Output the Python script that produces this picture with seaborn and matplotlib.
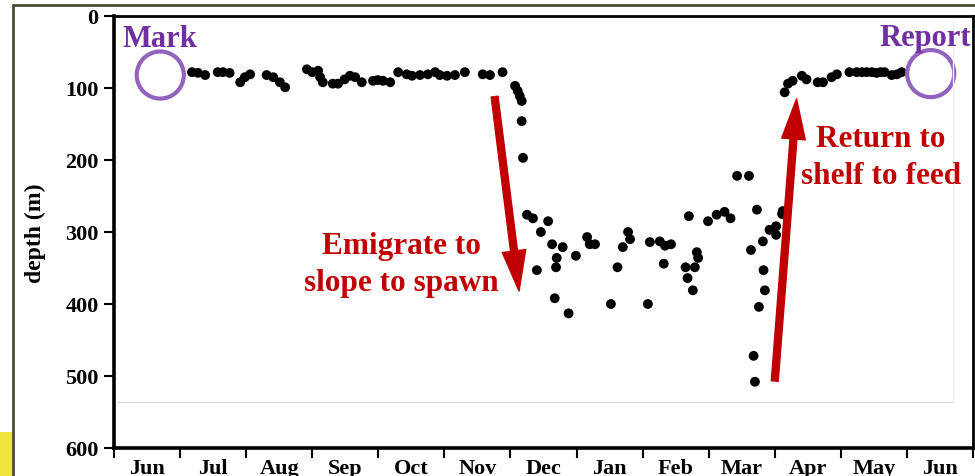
import matplotlib
matplotlib.use("Agg")
import matplotlib.pyplot as plt
from matplotlib.lines import Line2D
from matplotlib.patches import Rectangle
import seaborn as sns
import pandas as pd

# months along the x axis, one unit per month starting at 1 June
month_labels = ["Jun", "Jul", "Aug", "Sep", "Oct", "Nov", "Dec",
                "Jan", "Feb", "Mar", "Apr", "May", "Jun"]
depth_ticks = [0, 100, 200, 300, 400, 500, 600]

# summer on the shelf (Jun - Nov)
shelf_month = [1.18, 1.27, 1.38, 1.57, 1.65, 1.75, 1.91, 1.98, 2.06, 2.31, 2.41,
               2.51, 2.59, 2.92, 3.00, 3.09, 3.12, 3.16, 3.31, 3.39, 3.49, 3.57,
               3.65, 3.75, 3.92, 3.99, 4.07, 4.18, 4.30, 4.43, 4.51, 4.63, 4.75,
               4.86, 4.93, 5.04, 5.16, 5.31, 5.58, 5.69, 5.88]
shelf_depth = [78, 79, 82, 78, 78, 79, 92, 85, 81, 82, 85,
               92, 99, 74, 78, 76, 85, 92, 94, 94, 88, 83,
               85, 92, 90, 89, 90, 92, 78, 81, 83, 82, 81,
               78, 82, 83, 82, 78, 81, 82, 78]

# dive in early December
dive_month = [6.07, 6.11, 6.14, 6.17, 6.17, 6.19]
dive_depth = [97, 104, 111, 118, 146, 197]

# winter on the slope (Dec - Mar)
slope_month = [6.25, 6.34, 6.57, 6.46, 6.63, 6.79, 6.70, 6.69, 6.40, 6.99, 6.67,
               6.88, 7.16, 7.20, 7.28, 7.52, 7.62, 7.70, 7.78, 7.81, 8.08, 8.11,
               8.26, 8.34, 8.43, 8.32, 8.70, 8.82, 8.84, 8.65, 8.79, 8.68, 8.76,
               8.99, 9.12, 9.24, 9.33, 9.43, 9.61, 9.73, 9.64, 9.82, 9.83, 9.85,
               9.76, 9.68, 9.70, 9.92, 10.02, 10.02, 10.11, 10.12]
slope_depth = [276, 281, 285, 300, 317, 321, 336, 349, 353, 333, 392,
               413, 307, 317, 317, 400, 349, 321, 300, 310, 400, 314,
               313, 319, 317, 344, 278, 328, 336, 349, 349, 364, 381,
               285, 276, 272, 281, 222, 222, 269, 325, 313, 353, 381,
               404, 472, 508, 297, 292, 304, 275, 271]

# back on the shelf (Apr - Jun)
return_month = [10.15, 10.20, 10.27, 10.41, 10.48, 10.65, 10.73, 10.86, 10.94,
                11.13, 11.24, 11.32, 11.39, 11.47, 11.54, 11.60, 11.66, 11.77,
                11.85, 11.92]
return_depth = [106, 94, 90, 83, 88, 92, 92, 85, 81,
                78, 78, 78, 78, 78, 79, 78, 78, 82,
                81, 78]

df = pd.DataFrame({
    "month": shelf_month + dive_month + slope_month + return_month,
    "depth": shelf_depth + dive_depth + slope_depth + return_depth,
})

sns.set_style("white")
plt.rcParams["font.family"] = ["Liberation Serif", "DejaVu Serif"]
plt.rcParams["font.weight"] = "bold"
plt.rcParams["text.color"] = "black"
plt.rcParams["xtick.color"] = "black"
plt.rcParams["ytick.color"] = "black"
plt.rcParams["axes.labelcolor"] = "black"

W, H = 975, 477
fig = plt.figure(figsize=(W / 100, H / 100), dpi=100)
ax = fig.add_axes([114 / W, 1 - 449 / H, (973 - 114) / W, (449 - 17) / H])

sns.scatterplot(data=df, x="month", y="depth", ax=ax, color="black",
                s=50, edgecolor="none", zorder=3)

ax.set_xlim(0, 13)
ax.set_ylim(600, 0)
ax.set_yticks(depth_ticks)
ax.set_yticklabels([str(t) for t in depth_ticks], fontsize=16, fontweight="bold")
ax.set_xticks(range(14))
ax.set_xticklabels([])
ax.set_xticks([i + 0.5 for i in range(13)], minor=True)
ax.set_xticklabels(month_labels, minor=True, fontsize=16, fontweight="bold")
ax.tick_params(axis="x", which="major", direction="out", length=7, width=1.5,
               color="black", bottom=True)
ax.tick_params(axis="x", which="minor", length=0, pad=7, bottom=True)
ax.tick_params(axis="y", direction="out", length=7, width=1.5, pad=4,
               color="black", left=True)
ax.set_xlabel("")
ax.set_ylabel("depth (m)", fontsize=17, fontweight="bold")
ax.yaxis.set_label_coords(-0.079, 0.5)
for side, lw in [("left", 2.6), ("bottom", 2.6), ("top", 2), ("right", 2)]:
    ax.spines[side].set_visible(True)
    ax.spines[side].set_color("black")
    ax.spines[side].set_linewidth(lw)

# tag / report rings
ring = "#9163bd"
ax.scatter([0.70, 12.36], [82, 80], s=1150, facecolors="none",
           edgecolors=ring, linewidths=3, zorder=4)
purple = "#7030a0"
fig.text(123 / W, 1 - 47 / H, "Mark", color=purple, fontsize=22,
         fontweight="bold", ha="left", va="baseline")
fig.text(971 / W, 1 - 46 / H, "Report", color=purple, fontsize=22,
         fontweight="bold", ha="right", va="baseline")

# migration arrows
red = "#c00000"
arrow = dict(arrowstyle="simple,head_length=29,head_width=17,tail_width=5",
             mutation_scale=1, color=red, shrinkA=0, shrinkB=0)
ax.annotate("", xy=(6.13, 382), xytext=(5.76, 112), arrowprops=arrow, zorder=5)
ax.annotate("", xy=(10.33, 115), xytext=(10.0, 507), arrowprops=arrow, zorder=5)
fig.text(401 / W, 1 - 265 / H, "Emigrate to\nslope to spawn", color=red,
         fontsize=22.5, fontweight="bold", ha="center", va="center",
         multialignment="center", linespacing=1.35)
fig.text(881 / W, 1 - 158 / H, "Return to\nshelf to feed", color=red,
         fontsize=22.5, fontweight="bold", ha="center", va="center",
         multialignment="center", linespacing=1.35)

# slide leftovers: pasted image edge, frame and yellow tab
fig.add_artist(Line2D([117 / W, 953 / W], [1 - 403 / H] * 2, color="#dcdcdc", lw=1))
fig.add_artist(Line2D([953 / W] * 2, [1 - 403 / H, 1 - 20 / H], color="#ececec", lw=1))
fig.add_artist(Rectangle((0, 0), 13 / W, 44 / H, transform=fig.transFigure,
                         color="#f0e33c", lw=0))
fig.add_artist(Line2D([13 / W, 13 / W], [0, 1 - 6 / H], color="#4a5035", lw=2))
fig.add_artist(Line2D([13 / W, 1], [1 - 6 / H] * 2, color="#4a5035", lw=2))

fig.savefig("out.png", dpi=100)
